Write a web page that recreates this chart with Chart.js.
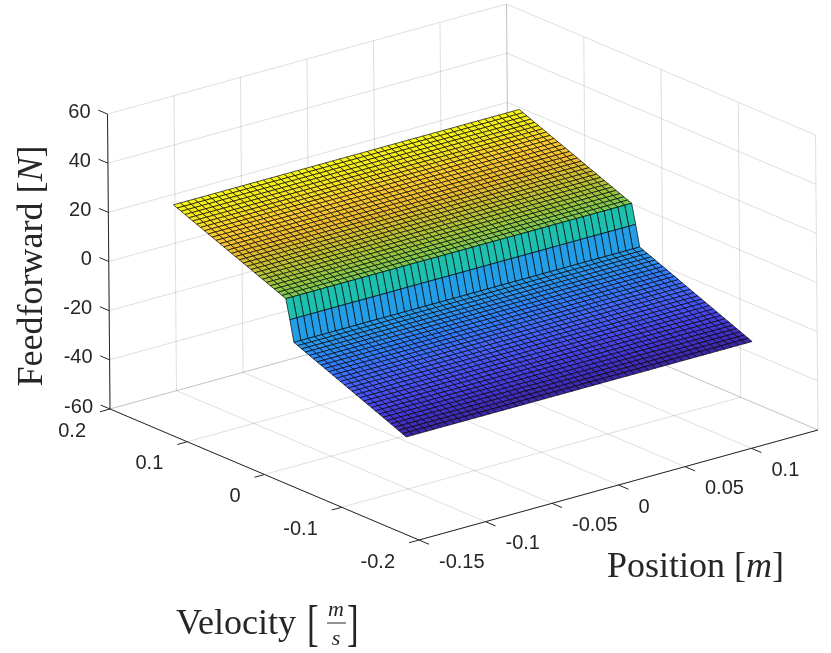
<!DOCTYPE html>
<html>
<head>
<meta charset="utf-8">
<script src="https://cdn.jsdelivr.net/npm/chart.js@4.4.0/dist/chart.umd.min.js"></script>
<style>
html,body{margin:0;padding:0;background:#ffffff;overflow:hidden}
#wrap{width:831px;height:653px;position:relative}
</style>
</head>
<body>
<div id="wrap"><canvas id="c" width="831" height="653"></canvas></div>
<script>
// ---------------- data ----------------
const positions = [-0.13,-0.1248,-0.1196,-0.1144,-0.1092,-0.104,-0.0988,-0.0936,-0.0884,-0.0832,
  -0.078,-0.0728,-0.0676,-0.0624,-0.0572,-0.052,-0.0468,-0.0416,-0.0364,-0.0312,
  -0.026,-0.0208,-0.0156,-0.0104,-0.0052,0,0.0052,0.0104,0.0156,0.0208,
  0.026,0.0312,0.0364,0.0416,0.0468,0.052,0.0572,0.0624,0.0676,0.0728,
  0.078,0.0832,0.0884,0.0936,0.0988,0.104,0.1092,0.1144,0.1196,0.1248,0.13];

const velocities = [-0.15,-0.145,-0.14,-0.135,-0.13,-0.125,-0.12,-0.115,-0.11,-0.105,
  -0.1,-0.095,-0.09,-0.085,-0.08,-0.075,-0.07,-0.065,-0.06,-0.055,
  -0.05,-0.045,-0.04,-0.035,-0.03,-0.025,-0.02,-0.015,-0.01,-0.005,
  0,
  0.005,0.01,0.015,0.02,0.025,0.03,0.035,0.04,0.045,0.05,
  0.055,0.06,0.065,0.07,0.075,0.08,0.085,0.09,0.095,0.1,
  0.105,0.11,0.115,0.12,0.125,0.13,0.135,0.14,0.145,0.15];

// feedforward force [N] for each velocity (same for every position)
const feedforward = [-27.7,-27.04,-26.38,-25.72,-25.06,-24.4,-23.74,-23.08,-22.42,-21.76,
  -21.1,-20.44,-19.78,-19.12,-18.46,-17.8,-17.14,-16.48,-15.82,-15.16,
  -14.5,-13.84,-13.18,-12.52,-11.86,-11.2,-10.54,-9.88,-9.22,-8.56,
  0,
  7.9,8.55,9.2,9.85,10.5,11.15,11.8,12.45,13.1,13.75,
  14.4,15.05,15.7,16.35,17.0,17.65,18.3,18.95,19.6,20.25,
  20.9,21.55,22.2,22.85,23.5,24.15,24.8,25.45,26.1,26.75];

const posTicks = [-0.15,-0.1,-0.05,0,0.05,0.1];
const posTickLabels = ['-0.15','-0.1','-0.05','0','0.05','0.1'];
const velTicks = [-0.2,-0.1,0,0.1,0.2];
const velTickLabels = ['-0.2','-0.1','0','0.1','0.2'];
const zTicks = [-60,-40,-20,0,20,40,60];
const zTickLabels = ['-60','-40','-20','0','20','40','60'];

// ---------------- view / styling ----------------
const lim = {pos:[-0.15,0.15], vel:[-0.2,0.2], z:[-60,60]};
const view = {origin:[110,409], ePos:[1330,-366.7], eVel:[-772.5,-327.5], eZ:[-0.0208,-2.458]};
function proj(p,v,z){
  const dp=p-lim.pos[0], dv=v-lim.vel[1], dz=z-lim.z[0];
  return {x: view.origin[0]+view.ePos[0]*dp+view.eVel[0]*dv+view.eZ[0]*dz,
          y: view.origin[1]+view.ePos[1]*dp+view.eVel[1]*dv+view.eZ[1]*dz};
}
const parula = [[0.2422,0.1504,0.6603],[0.2706,0.2147,0.8364],[0.2813,0.3006,0.9414],
  [0.2699,0.3892,0.9906],[0.1963,0.4847,0.9892],[0.1687,0.5703,0.9359],[0.1248,0.6459,0.8883],
  [0.0297,0.7082,0.8163],[0.0964,0.7478,0.7050],[0.2161,0.7763,0.5608],[0.3909,0.7912,0.3827],
  [0.5886,0.7787,0.2506],[0.7663,0.7530,0.1990],[0.9207,0.7304,0.1833],[0.9950,0.7880,0.1939],
  [0.9619,0.8982,0.1152],[0.9769,0.9839,0.0805]];
const cmin = Math.min(...feedforward), cmax = Math.max(...feedforward);
function cmap(val){
  let t=(val-cmin)/(cmax-cmin); t=Math.max(0,Math.min(1,t));
  const f=t*(parula.length-1), i=Math.min(parula.length-2,Math.floor(f)), r=f-i;
  const c=parula[i].map((a,k)=>a+(parula[i+1][k]-a)*r);
  return 'rgb('+c.map(a=>Math.round(a*255)).join(',')+')';
}

// points handed to Chart.js (projected surface vertices)
const surfacePoints = [];
velocities.forEach((v,i)=>positions.forEach(p=>{const q=proj(p,v,feedforward[i]); surfacePoints.push({x:q.x,y:q.y});}));

const surfacePlugin = {
  id:'surface3d',
  afterDatasetsDraw(chart){
    const ctx=chart.ctx, sx=chart.scales.x, sy=chart.scales.y;
    const P=(p,v,z)=>{const q=proj(p,v,z); return [sx.getPixelForValue(q.x), sy.getPixelForValue(q.y)];};
    const line=(a,b)=>{ctx.beginPath();ctx.moveTo(a[0],a[1]);ctx.lineTo(b[0],b[1]);ctx.stroke();};
    ctx.save();
    // grid
    ctx.strokeStyle='rgba(38,38,38,0.15)'; ctx.lineWidth=1;
    const gp=posTicks.concat([lim.pos[1]]);
    gp.forEach(p=>{ line(P(p,lim.vel[0],lim.z[0]),P(p,lim.vel[1],lim.z[0]));
                    line(P(p,lim.vel[1],lim.z[0]),P(p,lim.vel[1],lim.z[1])); });
    velTicks.forEach(v=>{ line(P(lim.pos[0],v,lim.z[0]),P(lim.pos[1],v,lim.z[0]));
                          line(P(lim.pos[1],v,lim.z[0]),P(lim.pos[1],v,lim.z[1])); });
    zTicks.forEach(z=>{ line(P(lim.pos[0],lim.vel[1],z),P(lim.pos[1],lim.vel[1],z));
                        line(P(lim.pos[1],lim.vel[1],z),P(lim.pos[1],lim.vel[0],z)); });
    // surface, back to front
    ctx.lineWidth=0.8; ctx.strokeStyle='rgba(0,0,0,0.85)'; ctx.lineJoin='round';
    for(let i=velocities.length-2;i>=0;i--){
      const col=cmap(feedforward[i]);
      for(let j=positions.length-2;j>=0;j--){
        const a=P(positions[j],velocities[i],feedforward[i]);
        const b=P(positions[j+1],velocities[i],feedforward[i]);
        const c=P(positions[j+1],velocities[i+1],feedforward[i+1]);
        const d=P(positions[j],velocities[i+1],feedforward[i+1]);
        ctx.beginPath();ctx.moveTo(a[0],a[1]);ctx.lineTo(b[0],b[1]);ctx.lineTo(c[0],c[1]);ctx.lineTo(d[0],d[1]);ctx.closePath();
        ctx.fillStyle=col; ctx.fill(); ctx.stroke();
      }
    }
    // axes lines
    ctx.strokeStyle='#262626'; ctx.lineWidth=1;
    line(P(lim.pos[0],lim.vel[1],lim.z[0]),P(lim.pos[0],lim.vel[1],lim.z[1]));
    line(P(lim.pos[0],lim.vel[1],lim.z[0]),P(lim.pos[0],lim.vel[0],lim.z[0]));
    line(P(lim.pos[0],lim.vel[0],lim.z[0]),P(lim.pos[1],lim.vel[0],lim.z[0]));
    // ticks + labels
    ctx.fillStyle='#262626'; ctx.font='20px "Liberation Sans", Arial, sans-serif'; ctx.textBaseline='middle';
    zTicks.forEach((z,k)=>{ const a=P(lim.pos[0],lim.vel[1],z), b=P(lim.pos[0],lim.vel[1]+0.012,z);
      line(a,b); ctx.textAlign='right'; ctx.fillText(zTickLabels[k],a[0]-17,a[1]-2); });
    velTicks.forEach((v,k)=>{ const a=P(lim.pos[0],v,lim.z[0]), b=P(lim.pos[0]-0.0075,v,lim.z[0]);
      line(a,b); ctx.textAlign='right'; ctx.fillText(velTickLabels[k],a[0]-24,a[1]+22); });
    posTicks.forEach((p,k)=>{ const a=P(p,lim.vel[0],lim.z[0]), b=P(p,lim.vel[0]-0.013,lim.z[0]);
      line(a,b); ctx.textAlign='left'; ctx.fillText(posTickLabels[k],a[0]+20,a[1]+22); });
    // axis titles
    const serif='"Liberation Serif","Times New Roman",serif';
    const rich=(pieces,x,y,align)=>{
      let w=0; pieces.forEach(p=>{ctx.font=p.f; w+=ctx.measureText(p.t).width;});
      let cx = align==='center'? x-w/2 : x;
      ctx.textAlign='left';
      pieces.forEach(p=>{ctx.font=p.f; ctx.fillText(p.t,cx,y); cx+=ctx.measureText(p.t).width;});
    };
    ctx.textBaseline='alphabetic';
    const nf='36px '+serif, itf='italic 36px '+serif;
    rich([{t:'Position [',f:nf},{t:'m',f:itf},{t:']',f:nf}],607,577,'left');
    ctx.save(); ctx.translate(42,266); ctx.rotate(-Math.PI/2);
    rich([{t:'Feedforward [',f:nf},{t:'N',f:itf},{t:']',f:nf}],0,0,'center');
    ctx.restore();
    ctx.font=nf; ctx.textAlign='left'; ctx.fillText('Velocity',176,634);
    ctx.save(); ctx.translate(307,640); ctx.scale(0.7,1);
    ctx.font='50px '+serif; ctx.fillText('[',0,0); ctx.fillText(']',57,0);
    ctx.restore();
    ctx.font='italic 22px '+serif; ctx.textAlign='center';
    ctx.fillText('m',336,616); ctx.fillText('s',336,645);
    ctx.lineWidth=1; ctx.strokeStyle='#262626'; line([327,623],[346,623]);
    ctx.restore();
  }
};

new Chart(document.getElementById('c').getContext('2d'),{
  type:'scatter',
  data:{datasets:[{data:surfacePoints,pointRadius:0,showLine:false}]},
  options:{
    responsive:false, animation:false, events:[],
    layout:{padding:0},
    plugins:{legend:{display:false},tooltip:{enabled:false}},
    scales:{
      x:{type:'linear',min:0,max:831,display:false},
      y:{type:'linear',min:0,max:653,reverse:true,display:false}
    }
  },
  plugins:[surfacePlugin]
});
</script>
</body>
</html>
